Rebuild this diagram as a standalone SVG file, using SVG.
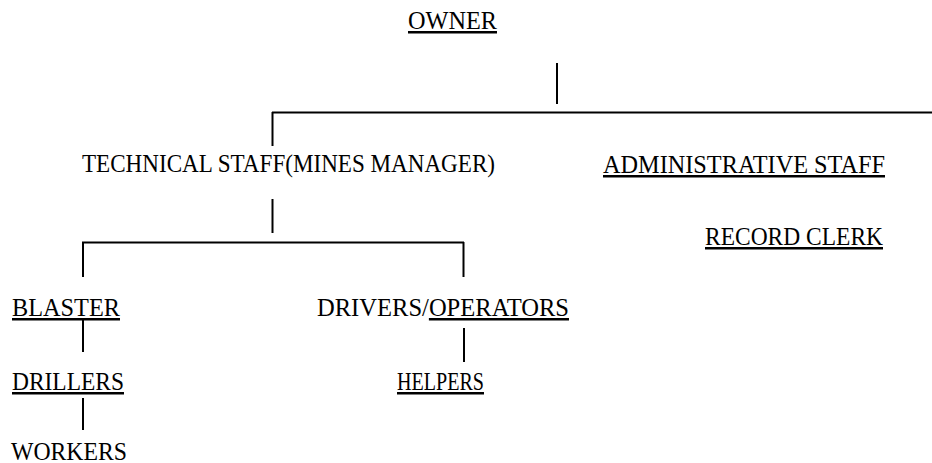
<svg xmlns="http://www.w3.org/2000/svg" width="932" height="463" viewBox="0 0 932 463">
<style>
text{font-family:"Liberation Serif","Times New Roman",serif;font-size:25px;fill:#000}
.u{text-decoration:underline}
.c line{stroke:#000;stroke-width:2;fill:none}
</style>
<rect width="932" height="463" fill="#fff"/>
<g id="connectors" class="c">
<line x1="557" y1="63" x2="557" y2="104"/>
<line x1="272" y1="112.5" x2="932" y2="112.5"/>
<line x1="272.5" y1="112" x2="272.5" y2="146"/>
<line x1="272.5" y1="199" x2="272.5" y2="233"/>
<line x1="82" y1="242.5" x2="464" y2="242.5"/>
<line x1="83" y1="242" x2="83" y2="277"/>
<line x1="463.5" y1="242" x2="463.5" y2="277"/>
<line x1="83" y1="320" x2="83" y2="352"/>
<line x1="464" y1="328" x2="464" y2="362"/>
<line x1="83" y1="398" x2="83" y2="430"/>
</g>
<g id="owner"><text class="u" x="408" y="29" textLength="89" lengthAdjust="spacingAndGlyphs">OWNER</text></g>
<g id="technical"><text x="82" y="172" textLength="413" lengthAdjust="spacingAndGlyphs">TECHNICAL STAFF(MINES MANAGER)</text></g>
<g id="administrative"><text class="u" x="603" y="173" textLength="282" lengthAdjust="spacingAndGlyphs">ADMINISTRATIVE STAFF</text></g>
<g id="record-clerk"><text class="u" x="705" y="245" textLength="178" lengthAdjust="spacingAndGlyphs">RECORD CLERK</text></g>
<g id="blaster"><text class="u" x="12" y="316" textLength="108" lengthAdjust="spacingAndGlyphs">BLASTER</text></g>
<g id="drivers"><text x="317" y="316" textLength="252" lengthAdjust="spacingAndGlyphs">DRIVERS/<tspan class="u">OPERATORS</tspan></text></g>
<g id="drillers"><text class="u" x="12" y="390" textLength="112" lengthAdjust="spacingAndGlyphs">DRILLERS</text></g>
<g id="helpers"><text class="u" x="397" y="390" textLength="87" lengthAdjust="spacingAndGlyphs">HELPERS</text></g>
<g id="workers"><text x="11" y="460" textLength="116" lengthAdjust="spacingAndGlyphs">WORKERS</text></g>
</svg>
